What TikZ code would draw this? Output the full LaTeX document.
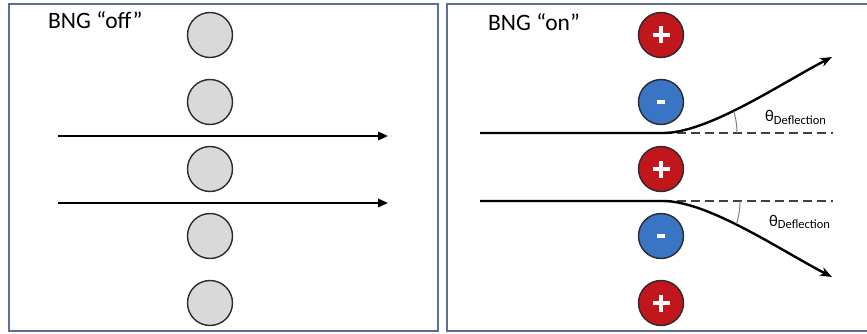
\documentclass[tikz,border=0pt]{standalone}
\usepackage{fontspec}
\setmainfont{Carlito}
\usetikzlibrary{arrows.meta}
\definecolor{frame}{HTML}{5B6F97}
\definecolor{plate}{HTML}{D9D9D9}
\definecolor{posred}{HTML}{C0161C}
\definecolor{negblue}{HTML}{3A74C4}
\definecolor{rim}{HTML}{2B2B2B}
\definecolor{guide}{HTML}{404040}
\tikzset{
  panel/.style={draw=frame, line width=1.6pt},
  electrode/.style={circle, draw=rim, line width=1.4pt, minimum size=45pt, inner sep=0pt},
  idle/.style={electrode, fill=plate},
  posplate/.style={electrode, fill=posred, path picture={
      \draw[white, line width=3.6pt]
        ([xshift=-8.5pt]path picture bounding box.center) -- ([xshift=8.5pt]path picture bounding box.center)
        ([yshift=-8.5pt]path picture bounding box.center) -- ([yshift=8.5pt]path picture bounding box.center);}},
  negplate/.style={electrode, fill=negblue, path picture={
      \draw[white, line width=3.8pt]
        ([xshift=-4pt]path picture bounding box.center) -- ([xshift=4pt]path picture bounding box.center);}},
  beam/.style={line width=2pt, -{Triangle[length=10pt,width=8.5pt]}},
  bent/.style={line width=2.4pt, -{Stealth[length=12pt,width=9pt]}},
  refline/.style={draw=guide, line width=1.5pt, dash pattern=on 9pt off 5pt},
  anglearc/.style={draw=gray, line width=1pt},
  title/.style={font=\fontsize{23.5}{27}\selectfont, anchor=base west, inner sep=0pt},
  thlabel/.style={font=\fontsize{16.5}{20}\selectfont, anchor=base west, inner sep=0pt},
}
\begin{document}
\begin{tikzpicture}[x=1pt, y=-1pt]
\useasboundingbox (0,0) rectangle (867,334);
\fill[white] (0,0) rectangle (867,334);

% panel frames
\draw[panel] (9,4) rectangle (438,331);
\draw[panel] (867,4) -- (447,4) -- (447,331) -- (867,331);

% titles
\node[title] (offtitle) at (48,29) {BNG “off”};
\node[title] (ontitle) at (488,31) {BNG “on”};

% idle electrodes
\node[idle] (o1) at (210,35) {};
\node[idle] (o2) at (210,102) {};
\node[idle] (o3) at (210,169) {};
\node[idle] (o4) at (210,236) {};
\node[idle] (o5) at (210,303) {};

% undeflected beams
\coordinate (b1s) at (58,136);
\coordinate (b1e) at (388,136);
\coordinate (b2s) at (58,203);
\coordinate (b2e) at (388,203);
\draw[beam] (b1s) -- (b1e);
\draw[beam] (b2s) -- (b2e);

% charged electrodes
\node[posplate] (e1) at (661,35) {};
\node[negplate] (e2) at (661,102) {};
\node[posplate] (e3) at (661,169) {};
\node[negplate] (e4) at (661,236) {};
\node[posplate] (e5) at (661,303) {};

% deflected beams
\coordinate (u0) at (480,133);
\coordinate (u1) at (663,133);
\coordinate (ut) at (832,57);
\coordinate (ud) at (833,133);
\coordinate (d0) at (480,201);
\coordinate (d1) at (663,201);
\coordinate (dt) at (832,277);
\coordinate (dd) at (833,201);

\draw[refline] (u1) -- (ud);
\draw[refline] (d1) -- (dd);
\draw[bent] (u0) -- (u1) .. controls (708,133) and (780,84) .. (ut);
\draw[bent] (d0) -- (d1) .. controls (708,201) and (780,250) .. (dt);

% deflection angles
\draw[anglearc] ([xshift=74pt]u1) arc[start angle=0, end angle=17, radius=74pt];
\draw[anglearc] ([xshift=77pt]d1) arc[start angle=0, end angle=-17, radius=77pt];
\node[thlabel] (th1) at (765,122) {θ\textsubscript{\fontsize{12.5}{15}\selectfont Deflection}};
\node[thlabel] (th2) at (769,226) {θ\textsubscript{\fontsize{12.5}{15}\selectfont Deflection}};
\end{tikzpicture}
\end{document}
